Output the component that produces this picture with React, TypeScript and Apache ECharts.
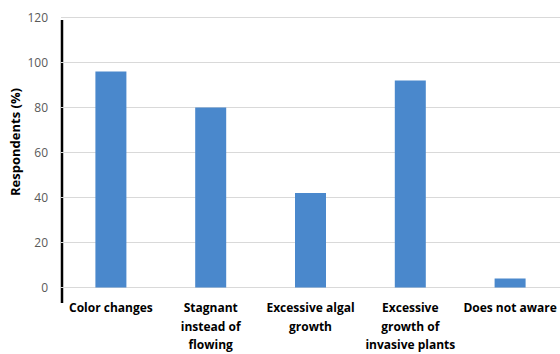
import React, { useEffect, useRef } from "react";
import * as echarts from "echarts";

const categories = [
  "Color changes",
  "Stagnant\ninstead of\nflowing",
  "Excessive algal\ngrowth",
  "Excessive\ngrowth of\ninvasive plants",
  "Does not aware",
];
const values = [96, 80, 42, 92, 4];
const yTicks = { min: 0, max: 120, interval: 20 };
const yTitle = "Respondents (%)";

export default function App() {
  const ref = useRef<HTMLDivElement>(null);
  useEffect(() => {
    if (!ref.current) return;
    const chart = echarts.init(ref.current, null, { renderer: "svg" });
    chart.setOption({
      animation: false,
      grid: { left: 61, top: 17.5, width: 505, height: 270.5, containLabel: false },
      xAxis: {
        type: "category",
        data: categories,
        axisLine: { show: true, lineStyle: { color: "#d9d9d9", width: 1 } },
        axisTick: { show: false },
        axisLabel: {
          interval: 0,
          color: "#000",
          fontWeight: "bold",
          fontSize: 12,
          fontFamily: "Open Sans",
          lineHeight: 18.5,
          margin: 11,
          verticalAlign: "top",
        },
      },
      yAxis: {
        type: "value",
        min: yTicks.min,
        max: yTicks.max,
        interval: yTicks.interval,
        axisLine: { show: false },
        axisTick: { show: false },
        splitLine: { lineStyle: { color: "#d9d9d9", width: 1 } },
        axisLabel: {
          color: "#595959",
          fontSize: 12,
          fontFamily: "Open Sans",
          margin: 13,
        },
      },
      series: [
        {
          type: "bar",
          data: values,
          barWidth: 31,
          itemStyle: { color: "#4a88cc" },
        },
      ],
      graphic: [
        {
          type: "line",
          shape: { x1: 62, y1: 20, x2: 62, y2: 303 },
          style: { stroke: "#000", lineWidth: 2.5 },
        },
        {
          type: "text",
          x: 15,
          y: 142,
          rotation: Math.PI / 2,
          style: {
            text: yTitle,
            fill: "#000",
            font: "bold 13px 'Open Sans'",
            align: "center",
            verticalAlign: "middle",
          },
        },
      ],
    });
    return () => chart.dispose();
  }, []);
  return <div ref={ref} style={{ width: 560, height: 354, position: "absolute", left: 0, top: 0 }} />;
}
